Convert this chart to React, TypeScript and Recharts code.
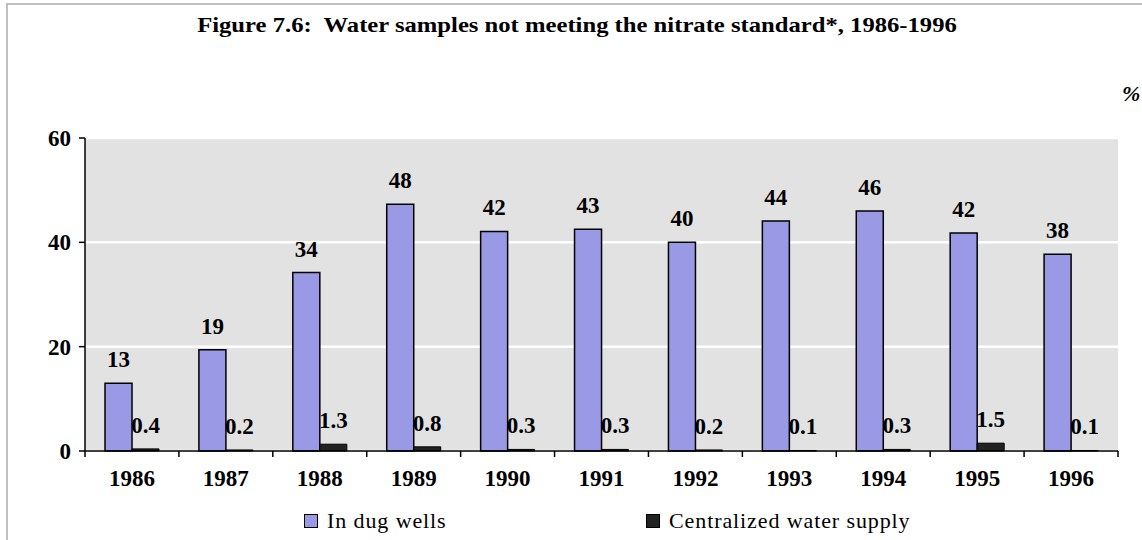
import React from 'react';
import { BarChart, Bar, XAxis, YAxis, CartesianGrid, LabelList, Legend } from 'recharts';

const years = ['1986', '1987', '1988', '1989', '1990', '1991', '1992', '1993', '1994', '1995', '1996'];
const dugWells = [13, 19.4, 34.2, 47.3, 42.1, 42.5, 40, 44.1, 46, 41.8, 37.7];
const dugWellsLabels = ['13', '19', '34', '48', '42', '43', '40', '44', '46', '42', '38'];
const centralized = [0.4, 0.2, 1.3, 0.8, 0.3, 0.3, 0.2, 0.1, 0.3, 1.5, 0.1];
const yTicks = [0, 20, 40, 60];
const seriesNames = ['In dug wells', 'Centralized water supply'];
const titleText = 'Figure 7.6:  Water samples not meeting the nitrate standard*, 1986-1996';

const data = years.map((y, i) => ({
  year: y,
  dug: dugWells[i],
  dugLabel: dugWellsLabels[i],
  central: centralized[i],
}));

const FONT = '"Liberation Serif", "Times New Roman", serif';
const BLUE = '#9999E6';
const DARK = '#222222';
const labelStyle = { fontFamily: FONT, fontWeight: 'bold', fontSize: 23, fill: '#000' };

const XTick = (props: any) => {
  const { x, y, payload, index } = props;
  const half = payload && payload.offset ? payload.offset : 0;
  const last = index === years.length - 1;
  return (
    <g>
      <line x1={x - half} x2={x - half} y1={y} y2={y + 6} stroke="#000" strokeWidth={1.5} />
      {last && <line x1={x + half} x2={x + half} y1={y} y2={y + 6} stroke="#000" strokeWidth={1.5} />}
      <text
        x={x}
        y={y + 30}
        textAnchor="middle"
        dominantBaseline="middle"
        style={labelStyle as any}
      >
        {payload.value}
      </text>
    </g>
  );
};

const LegendContent = () => {
  const items = [
    { name: seriesNames[0], color: BLUE, left: 304 },
    { name: seriesNames[1], color: DARK, left: 646 },
  ];
  return (
    <div style={{ position: 'relative', width: 1142, height: 26 }}>
      {items.map((it) => (
        <div
          key={it.name}
          style={{
            position: 'absolute',
            left: it.left,
            top: 0,
            display: 'flex',
            alignItems: 'center',
            fontFamily: FONT,
            fontSize: 22,
            letterSpacing: 0.9,
            color: '#000',
            whiteSpace: 'nowrap',
            height: 26,
          }}
        >
          <span
            style={{
              display: 'inline-block',
              width: 12,
              height: 12,
              background: it.color,
              border: '1px solid #000',
              marginRight: 9,
            }}
          />
          {it.name}
        </div>
      ))}
    </div>
  );
};

export default function App() {
  return (
    <div style={{ position: 'absolute', left: 0, top: 0, width: 1142, height: 540, background: '#fff' }}>
      <div
        style={{
          position: 'absolute',
          left: 6,
          top: 3,
          width: 1136,
          height: 537,
          borderLeft: '2px solid #C0C0C0',
          borderTop: '2px solid #C0C0C0',
          boxSizing: 'border-box',
        }}
      />
      <div
        style={{
          position: 'absolute',
          left: 12,
          top: 12,
          width: 1130,
          textAlign: 'center',
          fontFamily: FONT,
          fontWeight: 'bold',
          fontSize: 22,
          color: '#000',
          whiteSpace: 'pre',
          transform: 'scaleX(1.12)',
          transformOrigin: '565px 0',
        }}
      >
        {titleText}
      </div>
      <div
        style={{
          position: 'absolute',
          left: 1122,
          top: 81,
          fontFamily: FONT,
          fontWeight: 'bold',
          fontStyle: 'italic',
          fontSize: 22,
          color: '#000',
        }}
      >
        %
      </div>
      <div style={{ position: 'absolute', left: 0, top: 0 }}>
        <BarChart
          width={1142}
          height={540}
          data={data}
          margin={{ top: 138, right: 24, left: 0, bottom: 49 }}
          barGap={0}
          barSize={27}
        >
          <CartesianGrid vertical={false} stroke="#FFFFFF" strokeWidth={2.5} fill="#E2E2E2" fillOpacity={1} />
          <XAxis
            dataKey="year"
            height={40}
            axisLine={{ stroke: '#000', strokeWidth: 1.5 }}
            tickLine={false}
            tickSize={0}
            tickMargin={0}
            tick={<XTick />}
            interval={0}
          />
          <YAxis
            width={85}
            domain={[0, 60]}
            ticks={yTicks}
            interval={0}
            axisLine={{ stroke: '#000', strokeWidth: 1.5 }}
            tickLine={{ stroke: '#000', strokeWidth: 1.5 }}
            tickSize={6}
            tickMargin={8}
            tick={labelStyle as any}
          />
          <Legend
            layout="vertical"
            align="center"
            verticalAlign="middle"
            content={<LegendContent />}
            wrapperStyle={{ position: 'absolute', top: 508, left: 0, width: 1142, height: 26 }}
          />
          <Bar dataKey="dug" name={seriesNames[0]} fill={BLUE} stroke="#000" strokeWidth={1.5} isAnimationActive={false}>
            <LabelList dataKey="dugLabel" position="top" offset={16} style={labelStyle as any} />
          </Bar>
          <Bar dataKey="central" name={seriesNames[1]} fill={DARK} stroke="#000" strokeWidth={1} isAnimationActive={false}>
            <LabelList
              dataKey="central"
              position="top"
              offset={16}
              formatter={(v: any) => Number(v).toFixed(1)}
              style={labelStyle as any}
            />
          </Bar>
        </BarChart>
      </div>
    </div>
  );
}
